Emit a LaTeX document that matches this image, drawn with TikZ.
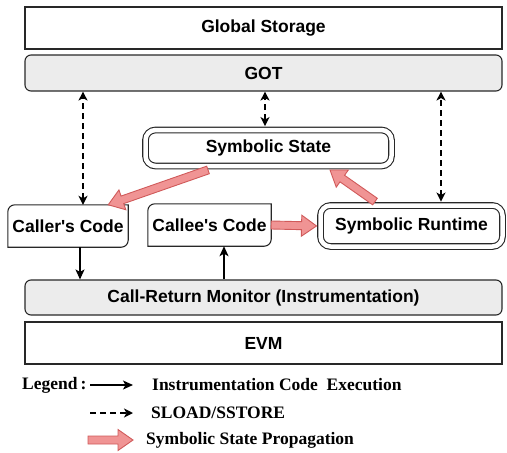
\documentclass[tikz,border=0pt]{standalone}
\usepackage{fontspec}
\usetikzlibrary{arrows.meta,calc}
\newfontfamily\boxfamily{Liberation Sans}
\newfontfamily\legendfamily{Liberation Serif}
\definecolor{boxline}{RGB}{40,40,40}
\definecolor{panel}{RGB}{236,236,236}
\definecolor{propfill}{RGB}{240,148,148}
\definecolor{propline}{RGB}{208,90,90}

% thick pink arrow from #1 to #2
\newcommand{\proparrow}[2]{%
  \filldraw[propagation] let \p1=#1, \p2=#2,
    \n1={atan2(\y2-\y1,\x2-\x1)}, \n2={veclen(\x2-\x1,\y2-\y1)} in
    [shift={(\p1)}, rotate=\n1]
    (0pt,-4pt) -- ({\n2*1pt-15pt},-4pt) -- ({\n2*1pt-15pt},-10.5pt)
    -- ({\n2*1pt},0pt) -- ({\n2*1pt-15pt},10.5pt) -- ({\n2*1pt-15pt},4pt)
    -- (0pt,4pt) -- cycle;}

\begin{document}
\begin{tikzpicture}[x=1pt, y=-1pt,
    boxtext/.style={font=\boxfamily\bfseries\fontsize{17.5}{20}\selectfont},
    layer/.style={boxtext, draw=boxline, line width=1.1pt, inner sep=0pt,
      minimum width=477pt},
    panelbox/.style={layer, fill=panel, rounded corners=6pt},
    dblbox/.style={boxtext, draw=boxline, line width=1.1pt, double,
      double distance=4.5pt, rounded corners=10pt, inner sep=0pt},
    codebox/.style={boxtext, inner sep=0pt, minimum height=42pt},
    exec/.style={-{Stealth[length=10pt,width=9pt,inset=2.5pt]}, line width=1.4pt},
    storage/.style={{Stealth[length=9pt,width=9pt,inset=2.5pt]}-{Stealth[length=9pt,width=9pt,inset=2.5pt]},
      line width=1.4pt, dash pattern=on 6pt off 4pt},
    propagation/.style={fill=propfill, draw=propline, line width=0.9pt},
    legendtext/.style={font=\legendfamily\bfseries\fontsize{17.5}{20}\selectfont,
      anchor=west, inner sep=0pt}]
  \useasboundingbox (0,0) rectangle (507,453);

  \node[layer, minimum height=42pt] (global) at (263.5,28) {Global Storage};
  \node[panelbox, minimum height=36pt] (got) at (263.5,73) {GOT};
  \node[dblbox, minimum width=246pt, minimum height=36pt] (symstate) at (268.5,148) {Symbolic State};
  \node[codebox, minimum width=120pt] (caller) at (68,226) {Caller's Code};
  \node[codebox, minimum width=123pt] (callee) at (209.5,225) {Callee's Code};
  \node[dblbox, minimum width=182pt, minimum height=41pt] (runtime) at (411.5,226) {Symbolic Runtime};
  \node[panelbox, minimum height=35pt] (monitor) at (263.5,297.5) {Call-Return Monitor (Instrumentation)};
  \node[layer, minimum height=42pt] (evm) at (263.5,343) {EVM};

  % code boxes: rounded top left and bottom right only
  \foreach \c in {caller,callee}
    \draw[boxline, line width=1.1pt] (\c.north east)
      -- ([xshift=7pt]\c.north west) arc[start angle=90, end angle=180, radius=7pt]
      -- (\c.south west)
      -- ([xshift=-7pt]\c.south east) arc[start angle=270, end angle=360, radius=7pt]
      -- cycle;

  \draw[storage] ([xshift=15pt]caller.north) -- ([xshift=15pt]caller.north |- got.south);
  \draw[storage, shorten <=3.4pt] ([xshift=-3.5pt]symstate.north) -- ([xshift=-3.5pt]symstate.north |- got.south);
  \draw[storage, shorten <=3.4pt] ([xshift=29.5pt]runtime.north) -- ([xshift=29.5pt]runtime.north |- got.south);

  \draw[exec] ([xshift=12pt]caller.south) -- ([xshift=12pt]caller.south |- monitor.north);
  \draw[exec] ([xshift=14.5pt]callee.south |- monitor.north) -- ([xshift=14.5pt]callee.south);

  \proparrow{([xshift=-60.5pt,yshift=-3.4pt]symstate.south)}{([xshift=-20pt]caller.north east)}
  \proparrow{(callee.east)}{([xshift=-3.4pt]runtime.west)}
  \proparrow{([xshift=-36.5pt,yshift=3.4pt]runtime.north)}{([xshift=61.5pt,yshift=-3.4pt]symstate.south)}

  % legend
  \node[legendtext] (legend) at (22,385) {Legend\,:};
  \coordinate (execA) at (90,385);
  \coordinate (execB) at (133,385);
  \coordinate (storeA) at (90,413);
  \coordinate (storeB) at (133,413);
  \coordinate (propA) at (88,440);
  \coordinate (propB) at (133,440);
  \draw[exec] (execA) -- (execB);
  \draw[storage, arrows={-Stealth[length=9pt,width=9pt,inset=2.5pt]}] (storeA) -- (storeB);
  \proparrow{(propA)}{(propB)}
  \node[legendtext] (execlabel) at (152,385) {Instrumentation Code\ \ Execution};
  \node[legendtext] (storelabel) at (151,413) {SLOAD/SSTORE};
  \node[legendtext] (proplabel) at (146,440) {Symbolic State Propagation};
\end{tikzpicture}
\end{document}
